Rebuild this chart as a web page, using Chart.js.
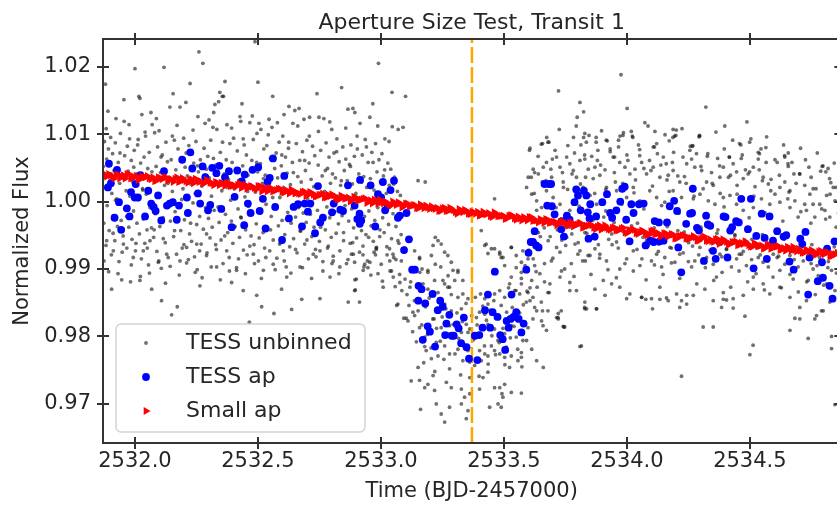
<!DOCTYPE html>
<html>
<head>
<meta charset="utf-8">
<script src="https://cdn.jsdelivr.net/npm/chart.js@4.4.0/dist/chart.umd.min.js"></script>
<style>
  html, body { margin: 0; padding: 0; background: #fff; overflow: hidden; }
  #wrap { width: 845px; height: 506px; position: relative; }
</style>
</head>
<body>
<div id="wrap"><canvas id="myChart"></canvas></div>
<script>
// labels and axis ranges
const chartTitle = 'Aperture Size Test, Transit 1';
const xLabel = 'Time (BJD-2457000)';
const yLabel = 'Normalized Flux';
const seriesNames = ['TESS unbinned', 'TESS ap', 'Small ap'];
const xRange = [2531.870, 2534.868];
const yRange = [0.9642, 1.0241];
const xTickStep = 0.5;
const yTickStep = 0.01;
const transitMid = 2533.37;

// TESS unbinned (time, flux)
const unbinned = [
[2531.871,1.0052],[2531.873,0.9968],[2531.876,1.0089],[2531.878,1.0021],[2531.880,1.0174],[2531.882,0.9935],[2531.885,1.0063],[2531.887,0.9994],[2531.890,1.0134],[2531.892,1.0078],[2531.895,0.9957],[2531.898,1.0031],[2531.901,1.0095],[2531.904,0.9921],[2531.906,1.0012],[2531.909,1.0071],[2531.912,0.9979],[2531.915,1.0046],[2531.918,0.9942],[2531.920,1.0087],[2531.923,1.0123],[2531.926,1.0004],[2531.929,0.9963],[2531.932,1.0058],[2531.935,0.9911],[2531.938,1.0027],[2531.941,1.0101],[2531.944,0.9972],[2531.946,0.9884],[2531.949,1.0039],[2531.952,0.9949],[2531.955,1.0151],[2531.956,1.0119],[2531.958,1.0068],[2531.961,0.9988],[2531.964,1.0016],[2531.967,0.9931],[2531.969,1.0082],
[2531.972,1.0045],[2531.975,0.9962],[2531.978,1.0093],[2531.980,1.0008],[2531.982,0.9881],[2531.985,1.0061],[2531.988,0.9944],[2531.991,1.0029],[2531.994,0.9986],[2531.997,1.0076],[2532.000,1.0197],[2532.002,0.9927],[2532.005,1.0041],[2532.008,0.9968],[2532.011,1.0084],[2532.014,1.0003],[2532.016,1.0156],[2532.018,0.9952],[2532.020,1.0153],[2532.023,1.0057],[2532.026,0.9915],[2532.028,1.0129],[2532.031,1.0019],[2532.034,0.9974],[2532.037,1.0066],[2532.040,0.9938],[2532.043,1.0097],[2532.046,1.0011],[2532.049,0.9958],[2532.052,1.0049],[2532.055,0.9906],[2532.058,1.0073],[2532.061,0.9991],[2532.065,1.0132],[2532.067,0.9961],[2532.068,0.9870],
[2532.070,1.0114],[2532.073,1.0034],[2532.076,0.9947],[2532.080,1.0102],[2532.083,0.9982],[2532.086,1.0052],[2532.089,0.9926],[2532.092,1.0081],[2532.095,1.0007],[2532.098,1.0105],[2532.101,0.9963],[2532.104,1.0043],[2532.107,0.9901],[2532.108,0.9853],[2532.111,1.0069],[2532.114,0.9976],[2532.118,1.0199],[2532.120,1.0024],[2532.123,0.9939],[2532.126,1.0088],[2532.129,0.9994],[2532.132,1.0059],[2532.135,0.9917],[2532.138,1.0036],[2532.142,1.0140],[2532.144,0.9971],[2532.147,1.0062],[2532.149,0.9832],[2532.152,1.0015],[2532.155,1.0160],[2532.157,0.9948],[2532.160,1.0091],[2532.163,0.9985],[2532.166,1.0047],[2532.169,0.9922],
[2532.172,0.9844],[2532.175,1.0078],[2532.178,0.9996],[2532.181,1.0032],[2532.183,1.0140],[2532.186,0.9957],[2532.189,1.0065],[2532.192,0.9931],[2532.195,1.0019],[2532.198,1.0094],[2532.201,0.9973],[2532.204,1.0051],[2532.207,1.0147],[2532.210,0.9909],[2532.213,1.0038],[2532.216,0.9986],[2532.219,1.0083],[2532.222,0.9952],[2532.224,1.0175],[2532.227,1.0026],[2532.230,0.9941],[2532.233,1.0071],[2532.236,0.9998],[2532.239,1.0057],[2532.242,0.9918],[2532.245,1.0012],[2532.248,1.0089],[2532.251,0.9966],[2532.253,0.9899],[2532.256,1.0126],[2532.258,1.0044],[2532.260,1.0222],[2532.263,0.9978],[2532.266,1.0062],[2532.269,0.9937],
[2532.272,1.0023],[2532.276,1.0205],[2532.278,0.9959],[2532.281,1.0079],[2532.285,1.0116],[2532.287,0.9991],[2532.290,1.0048],[2532.293,0.9924],[2532.296,1.0067],[2532.299,0.9975],[2532.302,1.0035],[2532.305,0.9946],[2532.308,1.0091],[2532.311,1.0008],[2532.314,0.9962],[2532.317,1.0110],[2532.320,1.0132],[2532.322,0.9987],[2532.325,1.0144],[2532.328,1.0054],[2532.331,0.9929],[2532.333,1.0107],[2532.336,1.0028],[2532.340,1.0148],[2532.342,0.9969],[2532.345,1.0162],[2532.347,1.0073],[2532.350,0.9943],[2532.353,1.0016],[2532.355,1.0156],[2532.358,0.9908],[2532.360,1.0156],[2532.363,1.0041],[2532.366,1.0178],[2532.368,0.9981],
[2532.371,1.0062],[2532.374,1.0114],[2532.377,0.9954],[2532.380,1.0033],[2532.383,0.9917],[2532.386,1.0086],[2532.389,1.0002],[2532.392,0.9971],[2532.395,1.0058],[2532.398,0.9938],[2532.401,1.0094],[2532.404,1.0019],[2532.407,0.9963],[2532.410,1.0047],[2532.413,0.9902],[2532.416,1.0075],[2532.419,0.9989],[2532.422,1.0031],[2532.425,0.9947],[2532.427,1.0126],[2532.430,1.0119],[2532.432,0.9976],[2532.435,1.0145],[2532.438,1.0053],[2532.441,0.9928],[2532.444,1.0084],[2532.447,1.0007],[2532.450,0.9958],[2532.453,1.0069],[2532.456,0.9921],[2532.459,1.0039],[2532.462,0.9993],[2532.465,0.9821],[2532.467,1.0117],[2532.469,1.0025],
[2532.472,0.9949],[2532.475,1.0061],[2532.478,0.9982],[2532.481,1.0092],[2532.484,0.9936],[2532.488,1.0237],[2532.490,1.0014],[2532.493,0.9967],[2532.496,1.0101],[2532.499,1.0044],[2532.500,1.0177],[2532.502,0.9912],[2532.504,1.0116],[2532.507,0.9985],[2532.510,1.0056],[2532.512,1.0107],[2532.515,0.9844],[2532.518,1.0027],[2532.521,0.9954],[2532.524,1.0078],[2532.527,0.9931],[2532.530,1.0039],[2532.533,0.9996],[2532.536,1.0083],[2532.539,0.9961],[2532.542,1.0018],[2532.545,1.0122],[2532.548,0.9927],[2532.551,1.0064],[2532.554,0.9978],[2532.557,1.0110],[2532.560,1.0156],[2532.562,0.9943],[2532.565,0.9834],[2532.568,1.0049],
[2532.571,0.9989],[2532.574,1.0072],[2532.577,0.9916],[2532.580,1.0035],[2532.583,0.9964],[2532.586,1.0088],[2532.589,1.0006],[2532.592,0.9939],[2532.595,1.0053],[2532.598,0.9972],[2532.601,1.0097],[2532.604,1.0021],[2532.606,1.0129],[2532.609,0.9951],[2532.612,1.0066],[2532.615,0.9903],[2532.618,1.0042],[2532.621,0.9984],[2532.624,1.0079],[2532.626,1.0141],[2532.629,0.9933],[2532.632,1.0025],[2532.635,0.9968],[2532.637,0.9840],[2532.640,1.0058],[2532.642,1.0116],[2532.645,0.9945],[2532.648,1.0012],[2532.650,1.0135],[2532.653,0.9977],[2532.656,1.0086],[2532.659,0.9924],[2532.662,1.0037],[2532.665,0.9991],[2532.667,1.0138],
[2532.670,1.0061],[2532.673,0.9956],[2532.676,1.0029],[2532.678,0.9855],[2532.681,1.0074],[2532.684,0.9983],[2532.687,1.0122],[2532.690,0.9937],[2532.693,1.0046],[2532.696,0.9969],[2532.699,1.0091],[2532.702,1.0004],[2532.705,0.9915],[2532.708,1.0057],[2532.710,1.0125],[2532.713,0.9981],[2532.716,1.0033],[2532.719,0.9948],[2532.722,1.0082],[2532.725,1.0011],[2532.728,0.9962],[2532.731,1.0068],[2532.734,0.9929],[2532.737,1.0023],[2532.740,1.0160],[2532.742,0.9987],[2532.745,1.0054],[2532.748,1.0125],[2532.750,0.9941],[2532.752,0.9856],[2532.755,1.0076],[2532.758,0.9973],[2532.761,1.0038],[2532.764,0.9911],[2532.768,1.0123],
[2532.771,1.0015],[2532.774,0.9958],[2532.777,1.0087],[2532.780,0.9992],[2532.783,1.0049],[2532.786,0.9934],[2532.789,1.0066],[2532.792,0.9976],[2532.795,1.0027],[2532.798,0.9947],[2532.800,1.0107],[2532.803,1.0041],[2532.806,0.9919],[2532.809,1.0072],[2532.812,0.9985],[2532.815,1.0035],[2532.818,0.9953],[2532.821,1.0093],[2532.824,1.0008],[2532.827,0.9967],[2532.830,1.0059],[2532.833,0.9927],[2532.836,1.0024],[2532.840,1.0169],[2532.842,0.9979],[2532.845,1.0081],[2532.848,0.9942],[2532.851,1.0046],[2532.854,0.9994],[2532.857,1.0063],[2532.860,0.9908],[2532.863,1.0031],[2532.866,1.0137],[2532.867,0.9851],[2532.869,0.9971],
[2532.872,1.0055],[2532.875,0.9938],[2532.878,1.0084],[2532.881,0.9989],[2532.884,1.0026],[2532.886,1.0138],[2532.889,0.9961],[2532.892,1.0067],[2532.894,1.0132],[2532.896,0.9869],[2532.898,1.0012],[2532.901,0.9946],[2532.904,1.0078],[2532.907,0.9983],[2532.910,1.0041],[2532.913,0.9925],[2532.915,1.0116],[2532.918,1.0003],[2532.921,0.9957],[2532.924,1.0069],[2532.927,0.9934],[2532.930,1.0037],[2532.933,0.9978],[2532.936,1.0092],[2532.939,0.9951],[2532.942,1.0021],[2532.945,0.9912],[2532.948,1.0058],[2532.951,0.9986],[2532.955,1.0125],[2532.957,1.0034],[2532.960,0.9964],[2532.963,1.0073],[2532.967,1.0145],[2532.969,0.9941],
[2532.972,1.0017],[2532.975,0.9972],[2532.978,1.0086],[2532.981,0.9929],[2532.984,1.0044],[2532.987,0.9991],[2532.990,1.0205],[2532.992,1.0062],[2532.995,0.9948],[2532.998,1.0029],[2533.001,0.9907],[2533.004,1.0071],[2533.007,0.9976],[2533.010,1.0038],[2533.013,0.9954],[2533.016,1.0093],[2533.019,0.9985],[2533.022,1.0012],[2533.025,0.9921],[2533.028,1.0057],[2533.031,0.9966],[2533.034,1.0024],[2533.037,0.9897],[2533.040,1.0048],[2533.043,0.9945],[2533.045,1.0162],[2533.046,1.0111],[2533.049,0.9982],[2533.052,0.9917],[2533.055,1.0036],[2533.058,0.9874],[2533.061,0.9963],[2533.064,0.9846],[2533.067,1.0015],[2533.070,1.0107],[2533.073,0.9938],[2533.076,0.9892],[2533.079,1.0009],[2533.082,0.9951],[2533.085,0.9868],[2533.088,0.9979],[2533.090,1.0110],[2533.093,0.9827],[2533.096,0.9931],[2533.098,0.9885],[2533.100,1.0156],
[2531.885,0.9942],[2531.912,0.9927],[2531.953,0.9937],[2531.993,0.9917],[2532.034,0.9927],[2532.061,0.9942],[2532.095,0.9910],[2532.129,0.9922],[2532.183,0.9912],[2532.210,0.9932],[2532.251,0.9937],[2532.291,0.9920],[2532.332,0.9903],[2532.373,0.9927],[2532.413,0.9898],[2532.440,0.9868],[2532.481,0.9922],[2532.522,0.9898],[2532.562,0.9907],[2532.603,0.9927],[2532.617,0.9888],[2532.671,0.9903],[2532.725,0.9922],[2532.752,0.9927],[2532.806,0.9912],[2532.833,0.9903],[2532.888,0.9922],[2532.928,0.9898],[2532.955,0.9910],[2532.982,0.9932],[2533.036,0.9912],[2533.050,0.9888],[2533.077,0.9880],[2533.118,0.9873],[2533.158,0.9895],
[2531.905,0.9870],[2532.020,0.9883],[2532.264,0.9875],[2532.393,0.9880],[2532.495,0.9861],[2532.596,0.9870],[2532.793,0.9888],[2533.009,0.9873],
[2531.874,0.9912],[2531.883,1.0108],[2531.893,0.9896],[2531.903,1.0041],[2531.911,0.9953],[2531.921,1.0002],[2531.931,0.9893],[2531.939,1.0072],[2531.948,0.9925],[2531.957,1.0033],[2531.966,0.9978],[2531.976,1.0114],[2531.985,0.9906],[2531.995,1.0051],[2532.004,0.9938],[2532.013,1.0092],[2532.022,0.9889],[2532.032,1.0017],[2532.041,1.0103],[2532.050,0.9931],[2532.059,0.9894],[2532.069,1.0044],[2532.078,0.9958],[2532.087,1.0123],[2532.097,0.9912],[2532.106,1.0066],[2532.115,0.9945],[2532.124,0.9879],[2532.134,1.0027],[2532.143,0.9904],[2532.152,1.0097],[2532.161,0.9957],[2532.171,1.0113],[2532.180,0.9891],[2532.190,1.0003],[2532.199,0.9936],[2532.208,1.0072],[2532.217,0.9914],[2532.226,0.9968],[2532.236,1.0106],[2532.245,0.9895],[2532.254,1.0053],[2532.263,0.9927],[2532.273,0.9887],[2532.282,1.0039],[2532.291,0.9952],[2532.301,1.0121],[2532.310,0.9903],[2532.319,1.0064],[2532.328,0.9936],[2532.338,0.9992],[2532.347,0.9884],[2532.356,1.0088],[2532.365,0.9949],[2532.375,1.0021],[2532.384,0.9897],[2532.393,1.0109],[2532.403,0.9962],[2532.412,1.0048],[2532.421,0.9915],[2532.430,0.9977],[2532.440,1.0093],[2532.449,0.9893],[2532.458,1.0015],[2532.467,0.9934],[2532.477,1.0127],[2532.486,0.9908],[2532.495,1.0058],[2532.505,0.9946],[2532.514,0.9886],[2532.523,1.0034],[2532.532,0.9917],[2532.542,1.0099],[2532.551,0.9958],[2532.560,1.0006],[2532.570,0.9899],[2532.579,1.0117],[2532.588,0.9937],[2532.597,1.0069],[2532.607,0.9912],[2532.616,0.9974],[2532.625,1.0088],[2532.634,0.9894],[2532.644,1.0043],[2532.653,0.9929],[2532.662,1.0112],[2532.672,0.9957],[2532.681,0.9902],[2532.690,1.0061],[2532.699,0.9943],[2532.709,1.0097],[2532.718,0.9886],[2532.727,1.0022],[2532.736,0.9918],[2532.746,1.0104],[2532.755,0.9962],[2532.764,0.9897],[2532.774,1.0046],[2532.783,0.9931],[2532.792,1.0118],[2532.801,0.9908],[2532.811,0.9985],[2532.820,1.0074],[2532.829,0.9893],[2532.839,1.0031],[2532.848,0.9954],[2532.857,1.0109],[2532.866,0.9914],[2532.876,1.0052],[2532.885,0.9939],[2532.894,0.9884],[2532.903,1.0097],[2532.913,0.9966],[2532.922,1.0029],[2532.931,0.9903],[2532.941,1.0081],[2532.950,0.9947],[2532.959,0.9891],[2532.968,1.0058],[2532.978,0.9921],[2532.987,1.0112],[2532.996,0.9958],[2533.006,0.9882],[2533.015,1.0047],[2533.024,0.9933],[2533.033,1.0089],[2533.043,0.9897],[2533.052,1.0026],[2533.061,0.9914],
[2533.151,1.0031],[2533.180,1.0029],[2533.221,0.9947],[2533.232,0.9942],[2533.245,0.9937],[2533.212,0.9935],[2533.157,0.9915],[2533.191,0.9898],[2533.272,0.9920],[2533.286,0.9910],[2533.313,0.9898],[2533.333,0.9883],[2533.252,0.9883],[2533.272,0.9873],[2533.462,1.0004],[2533.408,0.9957],[2533.428,0.9937],[2533.449,0.9930],[2533.483,0.9925],[2533.530,0.9932],[2533.489,0.9917],[2533.503,0.9905],[2533.550,0.9902],[2533.571,0.9910],[2533.598,0.9915],[2533.611,1.0036],[2533.625,1.0043],[2533.604,1.0076],[2533.652,1.0085],[2533.679,1.0088],[2533.571,0.9895],[2533.530,0.9888],[2533.571,0.9878],
[2533.069,0.9942],[2533.035,0.9930],[2533.049,0.9922],[2533.083,0.9912],[2533.137,0.9927],[2533.157,0.9917],[2533.167,0.9900],[2533.205,0.9920],[2533.221,0.9907],[2533.243,0.9903],[2533.191,0.9895],[2533.259,0.9925],[2533.273,0.9890],[2533.293,0.9898],[2533.313,0.9895],[2533.422,0.9935],[2533.435,0.9923],[2533.462,0.9930],[2533.483,0.9922],[2533.496,0.9917],[2533.530,0.9932],[2533.550,0.9920],[2533.577,0.9927],[2533.625,0.9905],[2533.665,0.9908],[2533.693,0.9912],[2533.747,0.9900],[2533.774,0.9908],[2533.801,0.9922],[2533.831,0.9912],[2533.842,0.9920],
[2532.880,0.9922],[2532.893,0.9910],[2532.927,0.9921],[2532.972,0.9925],[2532.981,0.9931],[2532.934,0.9907],[2532.947,0.9902],[2532.988,0.9893],[2532.900,0.9885],
[2532.893,0.9868],[2532.913,0.9851],[2533.069,0.9848],[2533.103,0.9827],[2533.130,0.9836],[2533.171,0.9878],[2533.191,0.9870],[2533.218,0.9883],[2533.232,0.9865],[2533.259,0.9878],[2533.279,0.9873],[2533.300,0.9883],[2533.313,0.9858],[2533.333,0.9863],[2533.354,0.9856],[2533.327,0.9841],[2533.286,0.9838],[2533.216,0.9826],[2533.259,0.9848],[2533.273,0.9821],[2533.405,0.9863],[2533.422,0.9856],[2533.435,0.9848],[2533.462,0.9863],[2533.483,0.9868],[2533.503,0.9858],[2533.523,0.9878],[2533.544,0.9868],[2533.564,0.9863],[2533.591,0.9851],[2533.598,0.9865],[2533.618,0.9858],[2533.625,0.9843],[2533.652,0.9851],[2533.679,0.9865],[2533.733,0.9838],[2533.720,0.9828],[2533.747,0.9814],[2533.679,0.9838],[2533.828,0.9843],[2533.815,0.9786],
[2533.110,0.9823],[2533.137,0.9831],[2533.157,0.9813],[2533.178,0.9799],[2533.205,0.9809],[2533.225,0.9791],[2533.245,0.9813],[2533.279,0.9816],[2533.300,0.9799],[2533.327,0.9806],[2533.347,0.9818],[2533.361,0.9811],[2533.388,0.9828],[2533.401,0.9836],[2533.422,0.9833],[2533.435,0.9818],[2533.462,0.9811],[2533.476,0.9794],[2533.503,0.9804],[2533.530,0.9816],[2533.550,0.9799],[2533.577,0.9794],[2533.598,0.9813],[2533.618,0.9826],[2533.659,0.9816],[2533.571,0.9776],[2533.510,0.9784],[2533.449,0.9786],[2533.422,0.9774],[2533.401,0.9779],
[2533.151,0.9754],[2533.184,0.9779],[2533.205,0.9767],[2533.232,0.9771],[2533.259,0.9786],[2533.279,0.9774],[2533.313,0.9781],[2533.333,0.9764],[2533.354,0.9779],[2533.381,0.9757],[2533.408,0.9764],[2533.435,0.9771],[2533.462,0.9779],[2533.483,0.9774],[2533.503,0.9769],[2533.530,0.9771],[2533.557,0.9764],[2533.573,0.9755],[2533.571,0.9769],[2533.523,0.9754],[2533.178,0.9785],
[2533.123,0.9734],[2533.157,0.9735],[2533.178,0.9724],[2533.191,0.9729],[2533.212,0.9742],[2533.218,0.9720],[2533.266,0.9732],[2533.286,0.9724],[2533.327,0.9722],[2533.340,0.9710],[2533.361,0.9739],[2533.361,0.9715],[2533.401,0.9722],[2533.415,0.9739],[2533.435,0.9747],[2533.462,0.9724],[2533.483,0.9724],[2533.492,0.9715],[2533.503,0.9729],[2533.530,0.9717],[2533.571,0.9716],[2533.161,0.9692],[2533.225,0.9700],[2533.245,0.9685],[2533.259,0.9673],[2533.279,0.9695],[2533.327,0.9700],[2533.354,0.9690],[2533.347,0.9678],[2533.442,0.9695],[2533.476,0.9700],[2533.489,0.9695],[2533.496,0.9710],
[2533.106,0.9862],[2533.114,0.9846],[2533.121,0.9881],[2533.129,0.9807],[2533.136,0.9853],[2533.144,0.9792],[2533.151,0.9838],[2533.159,0.9869],[2533.166,0.9817],[2533.174,0.9761],[2533.181,0.9844],[2533.189,0.9803],[2533.196,0.9857],[2533.204,0.9783],[2533.211,0.9826],[2533.219,0.9748],[2533.226,0.9812],[2533.234,0.9851],[2533.241,0.9793],[2533.249,0.9829],[2533.256,0.9766],[2533.264,0.9841],[2533.271,0.9804],[2533.279,0.9752],[2533.286,0.9862],[2533.294,0.9818],[2533.301,0.9774],[2533.309,0.9835],[2533.316,0.9797],[2533.324,0.9743],[2533.331,0.9822],[2533.339,0.9788],[2533.346,0.9849],[2533.354,0.9806],[2533.361,0.9762],[2533.369,0.9831],[2533.376,0.9795],[2533.384,0.9858],[2533.391,0.9817],[2533.399,0.9741],[2533.406,0.9802],[2533.414,0.9845],[2533.421,0.9786],[2533.429,0.9824],[2533.436,0.9759],[2533.444,0.9839],[2533.451,0.9801],[2533.459,0.9853],[2533.466,0.9773],[2533.474,0.9827],[2533.481,0.9791],[2533.489,0.9846],[2533.496,0.9812],[2533.504,0.9758],[2533.511,0.9836],[2533.519,0.9872],[2533.526,0.9798],[2533.534,0.9843],[2533.541,0.9815],[2533.549,0.9868],[2533.556,0.9781],[2533.564,0.9835],[2533.571,0.9886],[2533.579,0.9847],[2533.586,0.9905],[2533.594,0.9867],[2533.601,0.9928],
[2533.606,1.0079],[2533.657,1.0086],[2533.683,1.0088],[2533.722,1.0164],[2533.783,1.0095],[2533.798,1.0125],[2533.809,1.0147],[2533.813,1.0084],[2533.824,1.0133],[2533.824,1.0095],[2533.829,1.0101],[2533.835,1.0088],[2533.875,1.0095],[2533.875,1.0088],[2533.920,1.0090],[2533.966,1.0081],[2533.972,1.0097],[2533.976,1.0188],[2533.986,1.0102],[2534.001,1.0138],[2534.022,1.0097],[2534.073,1.0117],[2534.107,1.0081],[2534.114,1.0104],[2534.172,1.0090],[2534.188,1.0107],[2534.194,1.0097],[2534.199,1.0098],[2534.201,1.0106],[2534.266,1.0082],[2534.296,1.0097],[2534.321,1.0140],[2534.398,1.0112],[2534.463,1.0084],[2534.488,1.0118],[2534.504,1.0093],[2534.545,1.0078],[2534.565,1.0080],[2534.642,1.0066],[2534.656,1.0072],[2534.656,1.0052],[2534.794,1.0052],[2534.818,1.0049],
[2533.599,1.0036],[2533.619,1.0048],[2533.640,1.0041],[2533.660,1.0051],[2533.673,1.0058],[2533.694,1.0036],[2533.714,1.0066],[2533.728,1.0051],[2533.741,1.0029],[2533.755,1.0066],[2533.768,1.0056],[2533.782,1.0046],[2533.795,1.0036],[2533.809,1.0061],[2533.829,1.0063],[2533.843,1.0048],[2533.870,1.0051],[2533.890,1.0039],[2533.911,1.0047],[2533.944,1.0066],[2533.971,1.0058],[2533.992,1.0051],[2534.012,1.0041],[2534.033,1.0048],[2534.060,1.0058],[2534.080,1.0041],[2534.107,1.0051],[2534.134,1.0036],[2534.148,1.0066],[2534.168,1.0039],[2534.188,1.0046],[2534.215,1.0029],[2534.243,1.0056],[2534.263,1.0063],[2534.283,1.0071],[2534.304,1.0046],[2534.324,1.0029],[2534.351,1.0024],[2534.378,1.0036],[2534.392,1.0051],[2534.416,1.0066],[2534.432,1.0056],[2534.446,1.0044],[2534.473,1.0034],[2534.493,1.0041],[2534.514,1.0051],[2534.534,1.0063],[2534.554,1.0036],[2534.575,1.0026],[2534.602,1.0011],[2534.622,1.0021],[2534.642,1.0029],[2534.663,1.0016],[2534.683,1.0001],[2534.703,1.0041],[2534.723,1.0024],[2534.744,1.0011],[2534.764,0.9977],[2534.784,0.9996],[2534.812,1.0009],[2534.839,1.0021],
[2533.592,1.0021],[2533.613,1.0011],[2533.633,1.0001],[2533.653,0.9991],[2533.673,1.0016],[2533.700,1.0006],[2533.728,0.9996],[2533.768,0.9987],[2533.795,1.0004],[2533.822,1.0021],[2533.850,1.0009],[2533.877,0.9996],[2533.917,1.0021],[2533.958,1.0016],[2533.999,1.0006],[2534.026,1.0021],[2534.053,1.0001],[2534.093,1.0016],[2534.121,1.0006],[2534.154,0.9999],[2534.188,1.0016],[2534.222,1.0006],[2534.270,1.0004],[2534.297,1.0011],[2534.331,1.0001],[2534.358,0.9996],[2534.392,1.0006],[2534.419,1.0009],[2534.446,0.9996],[2534.473,0.9987],[2534.514,0.9991],[2534.547,1.0004],[2534.581,0.9996],[2534.622,0.9999],[2534.663,0.9991],[2534.696,0.9977],[2534.730,0.9987],[2534.757,0.9996],[2534.805,0.9987],[2534.825,0.9977],[2534.846,1.0001],
[2533.633,0.9987],[2533.660,0.9974],[2533.700,0.9982],[2533.728,0.9972],[2533.755,0.9962],[2533.640,0.9954],[2533.680,0.9942],[2533.714,0.9932],[2533.728,0.9925],[2533.755,0.9947],[2533.789,0.9937],[2533.809,0.9927],[2533.829,0.9954],[2533.850,0.9920],[2533.870,0.9930],[2533.890,0.9922],[2533.917,0.9912],[2533.938,0.9952],[2533.958,0.9940],[2533.971,0.9900],[2533.999,0.9915],[2534.026,0.9927],[2534.053,0.9905],[2534.080,0.9942],[2534.100,0.9912],[2534.121,0.9922],[2534.141,0.9903],[2534.154,0.9917],[2534.175,0.9932],[2534.195,0.9910],[2534.215,0.9922],[2534.243,0.9942],[2534.263,0.9903],[2534.276,0.9912],[2534.297,0.9932],[2534.324,0.9917],[2534.351,0.9907],[2534.364,0.9888],[2534.378,0.9922],[2534.405,0.9930],[2534.425,0.9903],[2534.446,0.9915],[2534.466,0.9922],[2534.486,0.9905],[2534.514,0.9888],[2534.534,0.9917],[2534.554,0.9910],[2534.575,0.9903],[2534.595,0.9922],[2534.622,0.9898],[2534.642,0.9907],[2534.663,0.9920],[2534.676,0.9885],[2534.696,0.9903],[2534.717,0.9912],[2534.737,0.9883],[2534.757,0.9900],[2534.778,0.9890],[2534.798,0.9912],[2534.812,0.9878],[2534.832,0.9898],[2534.846,0.9868],
[2534.825,0.9851],[2534.798,0.9838],[2534.764,0.9826],[2534.730,0.9853],[2534.703,0.9843],[2534.663,0.9858],[2534.622,0.9873],[2534.581,0.9863],[2534.554,0.9878],[2534.514,0.9870],[2534.473,0.9861],[2534.432,0.9856],[2534.392,0.9865],[2534.351,0.9853],[2534.317,0.9870],[2534.270,0.9861],[2534.243,0.9848],[2534.202,0.9863],[2534.168,0.9853],[2534.134,0.9873],[2534.100,0.9856],[2534.060,0.9858],[2534.012,0.9863],[2533.971,0.9873],[2533.938,0.9878],[2533.904,0.9883],[2533.870,0.9870],[2533.829,0.9851],[2533.795,0.9868],[2533.768,0.9880],[2533.728,0.9888],[2533.687,0.9878],[2533.646,0.9893],[2533.613,0.9883],[2533.619,0.9915],[2533.633,0.9932],[2533.606,0.9853],[2533.633,0.9838],[2533.653,0.9823],[2533.673,0.9809],[2533.592,0.9794],[2533.613,0.9781],[2533.633,0.9764],[2533.660,0.9754],
[2534.222,0.9741],[2533.809,0.9785],[2534.500,0.9773],[2534.513,0.9787],[2534.832,0.9800],[2534.832,0.9782],[2534.846,0.9699],[2533.836,0.9841],[2533.876,0.9841],[2533.744,0.9814],[2533.721,0.9834],[2533.721,0.9826],[2534.310,0.9814],[2534.351,0.9814],[2534.480,0.9830],[2534.432,0.9842],[2534.737,0.9797],
[2534.683,0.9827],[2534.703,0.9826],[2534.663,0.9809],[2534.791,0.9838],[2534.771,0.9831],[2534.392,0.9855],[2534.385,0.9843],[2534.405,0.9854],[2534.215,0.9843],[2534.222,0.9853],[2534.243,0.9861],[2534.134,0.9855],[2534.161,0.9857],[2534.104,0.9841],[2534.077,0.9855],[2534.060,0.9858],[2533.999,0.9856],[2533.911,0.9861],[2533.877,0.9841],[2533.829,0.9841],[2533.684,0.9865],[2533.768,0.9868],[2533.657,0.9838],[2533.714,0.9828],[2533.741,0.9815],[2533.635,0.9873],[2533.606,0.9872],
[2533.882,1.0076],[2533.916,1.0091],[2533.950,1.0066],[2533.984,1.0098],[2534.024,1.0095],[2534.052,1.0068],[2534.092,1.0061],[2534.112,1.0081],[2534.160,1.0056],[2534.187,1.0095],[2534.228,1.0066],[2534.268,1.0083],[2534.295,1.0098],[2534.329,1.0071],[2534.377,1.0053],[2534.417,1.0066],[2534.458,1.0086],[2534.499,1.0044],[2534.539,1.0071],[2534.566,1.0058],[2534.641,1.0068],[2534.655,1.0056],[2534.702,1.0041],[2534.749,1.0036],[2534.797,1.0053],[2534.824,1.0034],[2534.851,1.0021],
[2533.664,0.9961],[2533.688,0.9948],[2533.706,0.9966],[2533.735,0.9943],[2533.751,0.9971],[2533.776,0.9952],[2533.802,0.9939],[2533.818,0.9963],[2533.846,0.9946],[2533.861,0.9972],[2533.884,0.9936],[2533.897,0.9958],[2533.926,0.9944],[2533.948,0.9969],[2533.965,0.9931],[2533.983,0.9956],[2534.006,0.9938],[2534.019,0.9964],[2534.041,0.9929],[2534.066,0.9947],[2534.087,0.9935],[2534.111,0.9961],[2534.128,0.9926],[2534.146,0.9943],[2534.181,0.9931],[2534.207,0.9957],[2534.229,0.9924],[2534.251,0.9939],[2534.279,0.9962],[2534.292,0.9921],[2534.313,0.9947],[2534.338,0.9928],[2534.366,0.9953],[2534.386,0.9918],[2534.411,0.9936],[2534.439,0.9949],[2534.457,0.9922],[2534.478,0.9943],[2534.507,0.9914],[2534.528,0.9931],[2534.551,0.9951],[2534.572,0.9912],[2534.593,0.9938],[2534.617,0.9919],[2534.639,0.9944],[2534.668,0.9909],[2534.688,0.9927],[2534.711,0.9946],[2534.734,0.9915],[2534.752,0.9936],[2534.773,0.9905],[2534.801,0.9928],[2534.819,0.9911],[2534.843,0.9933],
[2533.671,1.0031],[2533.697,1.0063],[2533.712,0.9991],[2533.738,1.0043],[2533.759,1.0018],[2533.787,1.0072],[2533.806,0.9993],[2533.832,1.0036],[2533.857,1.0067],[2533.869,1.0012],[2533.893,1.0054],[2533.914,0.9986],[2533.932,1.0078],[2533.953,1.0029],[2533.979,0.9996],[2534.004,1.0061],[2534.029,1.0013],[2534.047,1.0084],[2534.069,0.9989],[2534.098,1.0046],[2534.124,1.0071],[2534.141,0.9994],[2534.163,1.0032],[2534.185,1.0058],[2534.212,0.9983],[2534.234,1.0037],[2534.256,1.0076],[2534.273,1.0008],[2534.301,1.0052],[2534.326,0.9979],[2534.347,1.0027],[2534.369,1.0064],[2534.395,0.9992],[2534.421,1.0039],[2534.448,1.0011],[2534.469,1.0069],[2534.497,0.9976],[2534.521,1.0022],[2534.538,1.0047],[2534.562,0.9983],[2534.586,1.0033],[2534.611,1.0058],[2534.634,0.9971],[2534.659,1.0014],[2534.679,1.0041],[2534.707,0.9985],[2534.726,1.0062],[2534.748,0.9968],[2534.769,1.0019],[2534.788,1.0045],[2534.808,0.9974],[2534.829,1.0028],[2534.851,0.9962],
[2533.623,1.0012],[2533.631,0.9896],[2533.639,1.0067],[2533.648,0.9948],[2533.656,1.0029],[2533.665,0.9881],[2533.674,1.0095],[2533.682,0.9973],[2533.691,1.0048],[2533.699,0.9916],[2533.708,1.0076],[2533.717,0.9958],[2533.725,1.0107],[2533.734,0.9897],[2533.742,1.0021],[2533.751,0.9935],[2533.760,1.0083],[2533.768,0.9962],[2533.777,1.0041],[2533.785,0.9889],[2533.794,1.0112],[2533.803,0.9971],[2533.811,1.0026],[2533.820,0.9912],[2533.828,1.0069],[2533.837,0.9953],[2533.846,1.0098],[2533.854,0.9892],[2533.863,1.0034],[2533.871,0.9945],[2533.880,1.0061],[2533.889,0.9916],[2533.897,1.0105],[2533.906,0.9977],[2533.914,1.0018],[2533.923,0.9899],[2533.932,1.0074],[2533.940,0.9936],[2533.949,1.0043],[2533.957,0.9887],[2533.966,1.0091],[2533.975,0.9959],[2533.983,1.0027],[2533.992,0.9908],[2534.000,1.0069],[2534.009,0.9944],[2534.018,1.0104],[2534.026,0.9897],[2534.035,1.0032],[2534.043,0.9968],[2534.052,1.0077],[2534.061,0.9915],[2534.069,1.0049],[2534.078,0.9884],[2534.086,1.0112],[2534.095,0.9951],[2534.104,1.0023],[2534.112,0.9906],[2534.121,1.0086],[2534.129,0.9937],[2534.138,1.0054],[2534.147,0.9892],[2534.155,1.0099],[2534.164,0.9963],[2534.172,1.0015],[2534.181,0.9909],[2534.190,1.0073],[2534.198,0.9946],[2534.207,1.0038],[2534.215,0.9886],[2534.224,1.0108],[2534.233,0.9955],[2534.241,1.0027],[2534.250,0.9911],[2534.258,1.0082],[2534.267,0.9934],[2534.276,1.0051],[2534.284,0.9878],[2534.293,1.0096],[2534.301,0.9962],[2534.310,1.0019],[2534.319,0.9902],[2534.327,1.0067],[2534.336,0.9941],[2534.344,1.0043],[2534.353,0.9883],[2534.362,1.0103],[2534.370,0.9958],[2534.379,1.0012],[2534.387,0.9895],[2534.396,1.0078],[2534.405,0.9929],[2534.413,1.0036],[2534.422,0.9873],[2534.430,1.0091],[2534.439,0.9951],[2534.448,1.0024],[2534.456,0.9897],[2534.465,1.0064],[2534.473,0.9926],[2534.482,1.0047],[2534.491,0.9881],[2534.499,1.0088],[2534.508,0.9944],[2534.516,1.0008],[2534.525,0.9893],[2534.534,1.0073],[2534.542,0.9921],[2534.551,1.0031],[2534.559,0.9869],[2534.568,1.0096],[2534.577,0.9938],[2534.585,1.0016],[2534.594,0.9888],[2534.602,1.0062],[2534.611,0.9917],[2534.620,1.0039],[2534.628,0.9872],[2534.637,1.0084],[2534.645,0.9931],[2534.654,1.0004],[2534.663,0.9892],[2534.671,1.0058],[2534.680,0.9914],[2534.688,1.0027],[2534.697,0.9866],[2534.706,1.0079],[2534.714,0.9923],[2534.723,0.9996],[2534.731,0.9881],[2534.740,1.0051],[2534.749,0.9908],[2534.757,1.0019],[2534.766,0.9862],[2534.774,1.0072],[2534.783,0.9917],[2534.792,0.9989],[2534.800,0.9876],[2534.809,1.0044],[2534.817,0.9902],[2534.826,1.0011],[2534.835,0.9859],[2534.843,1.0057],[2534.852,0.9894],[2534.860,0.9983]
];

// TESS ap (time, flux)
const tessAp = [
[2531.890,1.0021],[2531.894,1.0056],[2531.902,1.0027],[2531.917,0.9976],[2531.927,1.0047],[2531.935,0.9999],[2531.944,0.9958],[2531.967,0.9990],[2531.978,0.9978],[2531.984,1.0014],[2531.999,1.0006],[2532.003,1.0026],[2532.012,1.0006],[2532.022,1.0039],[2532.041,0.9978],[2532.054,1.0016],[2532.066,0.9997],[2532.076,0.9992],[2532.084,0.9986],[2532.094,1.0009],[2532.107,0.9972],[2532.118,1.0045],[2532.130,0.9994],[2532.141,0.9997],[2532.154,0.9999],[2532.170,0.9973],[2532.179,0.9994],[2532.192,1.0062],[2532.211,1.0006],[2532.215,0.9983],[2532.225,1.0073],[2532.233,1.0049],[2532.256,1.0012],[2532.265,0.9997],[2532.275,1.0052],[2532.286,1.0036],[2532.297,0.9987],[2532.306,0.9995],[2532.314,1.0050],[2532.331,1.0042],[2532.343,1.0053],[2532.351,0.9989],[2532.366,1.0036],[2532.382,1.0045],[2532.393,0.9962],[2532.405,1.0007],[2532.416,1.0046],[2532.434,1.0030],[2532.444,0.9965],[2532.446,1.0040],[2532.459,0.9997],[2532.470,0.9983],[2532.478,1.0047],[2532.501,1.0051],[2532.507,0.9986],[2532.520,1.0004],[2532.531,0.9960],[2532.539,1.0029],[2532.548,1.0035],[2532.561,1.0064],[2532.570,0.9992],[2532.598,0.9943],[2532.607,1.0038],[2532.626,0.9975],[2532.645,0.9992],[2532.663,0.9996],[2532.679,0.9963],[2532.690,0.9997],[2532.703,0.9985],[2532.713,0.9997],[2532.732,0.9953],[2532.744,1.0023],[2532.753,0.9969],[2532.764,0.9976],[2532.801,0.9984],[2532.808,0.9997],[2532.835,0.9988],[2532.846,0.9986],[2532.866,1.0024],[2532.893,0.9994],[2532.904,0.9974],[2532.913,0.9982],[2532.915,1.0032],[2532.920,0.9972],[2532.914,0.9967],[2532.958,1.0024],[2532.977,0.9963],[2532.988,1.0011],[2533.001,1.0006],[2533.008,1.0029],[2533.017,0.9987],[2533.028,0.9994],[2533.039,1.0017],[2533.053,1.0031],[2533.069,0.9976],[2533.076,0.9979],[2533.104,0.9983],[2533.114,0.9944],[2533.094,0.9928],
[2533.127,0.9899],[2533.138,0.9899],[2533.153,0.9875],[2533.165,0.9870],[2533.152,0.9853],[2533.180,0.9849],[2533.210,0.9863],[2533.241,0.9853],[2533.251,0.9844],[2533.231,0.9839],[2533.278,0.9832],[2533.190,0.9815],[2533.199,0.9807],[2533.170,0.9795],[2533.220,0.9785],[2533.266,0.9819],[2533.261,0.9802],[2533.288,0.9801],[2533.296,0.9801],[2533.308,0.9818],[2533.316,0.9812],[2533.337,0.9828],[2533.326,0.9790],[2533.348,0.9784],[2533.358,0.9767],[2533.392,0.9765],[2533.382,0.9801],[2533.400,0.9802],[2533.413,0.9813],[2533.444,0.9813],[2533.423,0.9839],[2533.435,0.9862],[2533.454,0.9836],[2533.474,0.9829],[2533.485,0.9802],[2533.495,0.9796],[2533.505,0.9780],[2533.511,0.9823],[2533.519,0.9813],[2533.527,0.9826],[2533.531,0.9862],[2533.539,0.9829],[2533.550,0.9836],[2533.560,0.9826],[2533.580,0.9819],[2533.571,0.9806],[2533.463,0.9896],[2533.591,0.9899],[2533.600,0.9924],[2533.609,0.9940],[2533.618,0.9940],[2533.631,0.9935],[2533.641,0.9932],[2533.625,0.9956],
[2533.665,1.0026],[2533.683,1.0026],[2533.692,1.0026],[2533.676,0.9994],[2533.695,0.9993],[2533.706,0.9981],[2533.733,0.9959],[2533.744,0.9948],[2533.736,0.9971],[2533.756,0.9979],[2533.767,0.9973],[2533.794,1.0018],[2533.801,1.0009],[2533.825,1.0016],[2533.835,1.0009],[2533.787,0.9999],[2533.812,0.9987],[2533.841,0.9984],[2533.851,0.9996],[2533.844,0.9945],[2533.848,0.9975],[2533.869,0.9948],[2533.875,0.9978],[2533.900,0.9999],[2533.919,1.0011],[2533.932,0.9983],[2533.940,0.9976],[2533.957,0.9987],[2533.973,1.0000],[2533.981,1.0019],[2533.991,1.0022],[2533.997,0.9973],[2534.011,0.9941],[2534.018,0.9996],[2534.027,0.9983],[2534.049,0.9996],[2534.068,0.9997],[2534.076,0.9935],[2534.095,0.9942],[2534.109,0.9940],[2534.113,0.9971],[2534.130,0.9969],[2534.133,0.9941],[2534.149,0.9942],[2534.163,0.9969],[2534.174,0.9993],[2534.192,1.0001],[2534.204,0.9986],[2534.209,0.9932],[2534.221,0.9895],[2534.241,0.9967],[2534.257,0.9982],[2534.265,0.9983],[2534.268,1.0019],[2534.285,0.9961],[2534.293,0.9957],[2534.313,0.9912],[2534.322,0.9979],[2534.329,0.9966],[2534.339,0.9964],[2534.350,0.9927],[2534.361,0.9915],[2534.377,0.9940],[2534.393,0.9978],[2534.401,0.9977],[2534.409,0.9917],[2534.420,0.9957],[2534.428,0.9962],[2534.444,0.9971],[2534.455,0.9969],[2534.465,1.0004],[2534.504,1.0004],[2534.492,0.9959],[2534.515,0.9901],[2534.526,0.9949],[2534.548,0.9982],[2534.580,0.9978],[2534.560,0.9946],[2534.594,0.9942],[2534.569,0.9915],[2534.611,0.9956],[2534.637,0.9948],[2534.648,0.9950],[2534.661,0.9911],[2534.678,0.9899],[2534.705,0.9945],[2534.713,0.9937],[2534.726,0.9955],[2534.737,0.9862],[2534.743,0.9917],[2534.776,0.9882],[2534.797,0.9887],[2534.824,0.9875],[2534.793,0.9910],[2534.814,0.9930],[2534.844,0.9941],[2534.836,0.9856]
];

// Small ap (time, flux)
const smallAp = [
[2531.870,1.0042],[2531.885,1.0037],[2531.900,1.0039],[2531.915,1.0034],[2531.930,1.0040],[2531.945,1.0037],[2531.960,1.0034],[2531.975,1.0041],[2531.990,1.0035],[2532.005,1.0038],[2532.020,1.0033],[2532.035,1.0036],[2532.050,1.0038],[2532.065,1.0033],[2532.080,1.0030],[2532.095,1.0036],[2532.110,1.0033],[2532.125,1.0036],[2532.140,1.0032],[2532.155,1.0029],[2532.170,1.0036],[2532.185,1.0030],[2532.200,1.0032],[2532.215,1.0028],[2532.230,1.0033],[2532.245,1.0034],[2532.260,1.0029],[2532.275,1.0027],[2532.290,1.0032],[2532.305,1.0028],[2532.320,1.0024],[2532.335,1.0028],[2532.350,1.0028],[2532.365,1.0023],[2532.380,1.0028],[2532.395,1.0023],[2532.410,1.0022],[2532.425,1.0027],[2532.440,1.0022],[2532.455,1.0019],[2532.470,1.0023],[2532.485,1.0020],[2532.500,1.0023],[2532.515,1.0015],[2532.530,1.0020],[2532.545,1.0020],[2532.560,1.0015],[2532.575,1.0017],[2532.590,1.0019],[2532.605,1.0013],[2532.620,1.0016],[2532.635,1.0018],[2532.650,1.0012],[2532.665,1.0012],[2532.680,1.0014],[2532.695,1.0008],[2532.710,1.0014],[2532.725,1.0010],[2532.740,1.0008],[2532.755,1.0010],[2532.770,1.0006],[2532.785,1.0010],[2532.800,1.0011],[2532.815,1.0006],[2532.830,1.0003],[2532.845,1.0007],[2532.860,1.0005],[2532.875,1.0000],[2532.890,1.0007],[2532.905,1.0001],[2532.920,1.0003],[2532.935,1.0005],[2532.950,1.0000],[2532.965,0.9997],[2532.980,1.0002],[2532.995,1.0003],
[2533.010,0.9997],[2533.025,0.9998],[2533.040,0.9994],[2533.055,0.9998],[2533.070,0.9999],[2533.085,0.9991],[2533.100,0.9997],[2533.115,0.9993],[2533.130,0.9995],[2533.145,0.9990],[2533.160,0.9996],[2533.175,0.9990],[2533.190,0.9991],[2533.205,0.9993],[2533.220,0.9989],[2533.235,0.9986],[2533.250,0.9990],[2533.265,0.9986],[2533.280,0.9991],[2533.295,0.9987],[2533.310,0.9982],[2533.325,0.9986],[2533.340,0.9988],[2533.355,0.9982],[2533.370,0.9985],[2533.385,0.9982],[2533.400,0.9979],[2533.415,0.9985],[2533.430,0.9981],[2533.445,0.9978],[2533.460,0.9984],[2533.475,0.9978],[2533.490,0.9979],[2533.505,0.9974],[2533.520,0.9979],[2533.535,0.9979],[2533.550,0.9973],[2533.565,0.9975],[2533.580,0.9977],[2533.595,0.9972],[2533.610,0.9977],[2533.625,0.9972],[2533.640,0.9969],[2533.655,0.9972],[2533.670,0.9974],[2533.685,0.9968],[2533.700,0.9970],[2533.715,0.9965],[2533.730,0.9970],[2533.745,0.9969],[2533.760,0.9964],[2533.775,0.9969],[2533.790,0.9965],[2533.805,0.9967],[2533.820,0.9961],[2533.835,0.9964],[2533.850,0.9966],[2533.865,0.9961],[2533.880,0.9963],[2533.895,0.9958],[2533.910,0.9965],[2533.925,0.9959],[2533.940,0.9961],[2533.955,0.9957],[2533.970,0.9958],[2533.985,0.9961],
[2534.000,0.9953],[2534.015,0.9957],[2534.030,0.9958],[2534.045,0.9952],[2534.060,0.9957],[2534.075,0.9953],[2534.090,0.9951],[2534.105,0.9957],[2534.120,0.9952],[2534.135,0.9948],[2534.150,0.9953],[2534.165,0.9949],[2534.180,0.9952],[2534.195,0.9945],[2534.210,0.9949],[2534.225,0.9950],[2534.240,0.9945],[2534.255,0.9946],[2534.270,0.9949],[2534.285,0.9942],[2534.300,0.9945],[2534.315,0.9948],[2534.330,0.9941],[2534.345,0.9941],[2534.360,0.9944],[2534.375,0.9937],[2534.390,0.9944],[2534.405,0.9940],[2534.420,0.9937],[2534.435,0.9940],[2534.450,0.9935],[2534.465,0.9939],[2534.480,0.9941],[2534.495,0.9935],[2534.510,0.9933],[2534.525,0.9937],[2534.540,0.9934],[2534.555,0.9930],[2534.570,0.9936],[2534.585,0.9930],[2534.600,0.9933],[2534.615,0.9934],[2534.630,0.9929],[2534.645,0.9927],[2534.660,0.9931],[2534.675,0.9933],[2534.690,0.9926],[2534.705,0.9927],[2534.720,0.9924],[2534.735,0.9927],[2534.750,0.9928],[2534.765,0.9921],[2534.780,0.9926],[2534.795,0.9923],[2534.810,0.9925],[2534.825,0.9919],[2534.840,0.9922],[2534.855,0.9924],[2534.870,0.9918],
[2531.8775,1.0037],[2531.8925,1.0041],[2531.9075,1.0037],[2531.9225,1.0039],[2531.9375,1.0034],[2531.9525,1.0039],[2531.9675,1.0041],[2531.9825,1.0034],[2531.9975,1.0036],[2532.0125,1.0032],[2532.0275,1.0038],[2532.0425,1.0036],[2532.0575,1.0034],[2532.0725,1.0036],[2532.0875,1.0031],[2532.1025,1.0035],[2532.1175,1.0036],[2532.1325,1.0031],[2532.1475,1.0033],[2532.1625,1.0034],[2532.1775,1.0029],[2532.1925,1.0035],[2532.2075,1.0030],[2532.2225,1.0032],[2532.2375,1.0027],[2532.2525,1.0032],[2532.2675,1.0030],[2532.2825,1.0027],[2532.2975,1.0031],[2532.3125,1.0027],[2532.3275,1.0029],[2532.3425,1.0024],[2532.3575,1.0027],[2532.3725,1.0028],[2532.3875,1.0023],[2532.4025,1.0024],[2532.4175,1.0025],[2532.4325,1.0020],[2532.4475,1.0025],[2532.4625,1.0021],[2532.4775,1.0022],[2532.4925,1.0018],[2532.5075,1.0023],[2532.5225,1.0019],[2532.5375,1.0015],[2532.5525,1.0020],[2532.5675,1.0016],[2532.5825,1.0019],[2532.5975,1.0014],[2532.6125,1.0016],[2532.6275,1.0012],[2532.6425,1.0016],[2532.6575,1.0013],[2532.6725,1.0011],[2532.6875,1.0015],[2532.7025,1.0010],[2532.7175,1.0013],[2532.7325,1.0007],[2532.7475,1.0010],[2532.7625,1.0012],[2532.7775,1.0006],[2532.7925,1.0008],[2532.8075,1.0009],[2532.8225,1.0003],[2532.8375,1.0009],[2532.8525,1.0004],[2532.8675,1.0006],[2532.8825,1.0002],[2532.8975,1.0006],[2532.9125,1.0002],[2532.9275,1.0004],[2532.9425,0.9998],[2532.9575,1.0002],[2532.9725,1.0003],[2532.9875,0.9997],
[2533.0025,0.9999],[2533.0175,1.0000],[2533.0325,0.9995],[2533.0475,1.0000],[2533.0625,0.9995],[2533.0775,0.9997],[2533.0925,0.9993],[2533.1075,0.9997],[2533.1225,0.9993],[2533.1375,0.9995],[2533.1525,0.9990],[2533.1675,0.9993],[2533.1825,0.9994],[2533.1975,0.9989],[2533.2125,0.9990],[2533.2275,0.9991],[2533.2425,0.9986],[2533.2575,0.9991],[2533.2725,0.9986],[2533.2875,0.9988],[2533.3025,0.9984],[2533.3175,0.9989],[2533.3325,0.9984],[2533.3475,0.9986],[2533.3625,0.9981],[2533.3775,0.9984],[2533.3925,0.9985],[2533.4075,0.9980],[2533.4225,0.9981],[2533.4375,0.9983],[2533.4525,0.9977],[2533.4675,0.9982],[2533.4825,0.9978],[2533.4975,0.9979],[2533.5125,0.9975],[2533.5275,0.9980],[2533.5425,0.9975],[2533.5575,0.9978],[2533.5725,0.9972],[2533.5875,0.9975],[2533.6025,0.9977],[2533.6175,0.9971],[2533.6325,0.9972],[2533.6475,0.9974],[2533.6625,0.9968],[2533.6775,0.9973],[2533.6925,0.9969],[2533.7075,0.9970],[2533.7225,0.9967],[2533.7375,0.9971],[2533.7525,0.9966],[2533.7675,0.9969],[2533.7825,0.9963],[2533.7975,0.9966],[2533.8125,0.9968],[2533.8275,0.9962],[2533.8425,0.9964],[2533.8575,0.9965],[2533.8725,0.9959],[2533.8875,0.9965],[2533.9025,0.9960],[2533.9175,0.9961],[2533.9325,0.9958],[2533.9475,0.9962],[2533.9625,0.9957],[2533.9775,0.9960],[2533.9925,0.9954],
[2534.0075,0.9958],[2534.0225,0.9959],[2534.0375,0.9953],[2534.0525,0.9955],[2534.0675,0.9956],[2534.0825,0.9950],[2534.0975,0.9956],[2534.1125,0.9951],[2534.1275,0.9953],[2534.1425,0.9949],[2534.1575,0.9953],[2534.1725,0.9949],[2534.1875,0.9951],[2534.2025,0.9945],[2534.2175,0.9949],[2534.2325,0.9950],[2534.2475,0.9945],[2534.2625,0.9946],[2534.2775,0.9947],[2534.2925,0.9942],[2534.3075,0.9947],[2534.3225,0.9942],[2534.3375,0.9944],[2534.3525,0.9940],[2534.3675,0.9945],[2534.3825,0.9940],[2534.3975,0.9942],[2534.4125,0.9937],[2534.4275,0.9940],[2534.4425,0.9941],[2534.4575,0.9936],[2534.4725,0.9937],[2534.4875,0.9938],[2534.5025,0.9933],[2534.5175,0.9938],[2534.5325,0.9934],[2534.5475,0.9935],[2534.5625,0.9931],[2534.5775,0.9936],[2534.5925,0.9931],[2534.6075,0.9933],[2534.6225,0.9928],[2534.6375,0.9931],[2534.6525,0.9933],[2534.6675,0.9927],[2534.6825,0.9928],[2534.6975,0.9930],[2534.7125,0.9924],[2534.7275,0.9929],[2534.7425,0.9925],[2534.7575,0.9926],[2534.7725,0.9922],[2534.7875,0.9927],[2534.8025,0.9922],[2534.8175,0.9925],[2534.8325,0.9919],[2534.8475,0.9922],[2534.8625,0.9924]
];

const fontFamily = "'DejaVu Sans', sans-serif";
const ink = '#262626';

// frame, inout ticks, title and legend drawn on top of the plot
const framePlugin = {
    id: 'frame',
    afterDatasetsDraw(chart) {
        const { ctx, chartArea: a } = chart;
        const bx = a.left + 13, by = a.bottom - 119, bw = 249, bh = 108, r = 5;
        ctx.save();
        ctx.beginPath();
        ctx.moveTo(bx + r, by);
        ctx.arcTo(bx + bw, by, bx + bw, by + bh, r);
        ctx.arcTo(bx + bw, by + bh, bx, by + bh, r);
        ctx.arcTo(bx, by + bh, bx, by, r);
        ctx.arcTo(bx, by, bx + bw, by, r);
        ctx.closePath();
        ctx.fillStyle = 'rgba(255,255,255,0.8)';
        ctx.fill();
        ctx.strokeStyle = '#d4d4d4';
        ctx.lineWidth = 1.5;
        ctx.stroke();

        let row = 0;
        chart.data.datasets.forEach(ds => {
            if (!ds.label) return;
            const cy = by + 19 + row * 34;
            ctx.fillStyle = ds.pointBackgroundColor;
            Chart.helpers.drawPoint(ctx, {
                pointStyle: ds.pointStyle,
                rotation: ds.pointRotation || 0,
                radius: ds.pointRadius,
                borderWidth: 0
            }, bx + 30, cy);
            ctx.fillStyle = ink;
            ctx.font = '22px ' + fontFamily;
            ctx.textAlign = 'left';
            ctx.textBaseline = 'middle';
            ctx.fillText(ds.label, bx + 70, cy);
            row++;
        });
        ctx.restore();
    },
    afterDraw(chart) {
        const { ctx, chartArea: a, scales: { x, y } } = chart;
        ctx.save();
        ctx.strokeStyle = '#333';
        ctx.lineWidth = 2;
        ctx.strokeRect(a.left, a.top, a.right - a.left, a.bottom - a.top);
        ctx.beginPath();
        x.ticks.forEach(t => {
            const px = Math.round(x.getPixelForValue(t.value));
            ctx.moveTo(px, a.bottom - 6); ctx.lineTo(px, a.bottom + 6);
            ctx.moveTo(px, a.top - 6); ctx.lineTo(px, a.top + 6);
        });
        y.ticks.forEach(t => {
            const py = Math.round(y.getPixelForValue(t.value));
            ctx.moveTo(a.left - 6, py); ctx.lineTo(a.left + 6, py);
            ctx.moveTo(a.right - 6, py); ctx.lineTo(a.right + 6, py);
        });
        ctx.stroke();

        ctx.fillStyle = ink;
        ctx.font = '22px ' + fontFamily;
        ctx.textAlign = 'center';
        ctx.textBaseline = 'alphabetic';
        ctx.fillText(chartTitle, (a.left + a.right) / 2, 29);
        ctx.restore();
    }
};

const ctx = document.getElementById('myChart').getContext('2d');
const chart = new Chart(ctx, {
    type: 'scatter',
    data: {
        datasets: [
            {
                label: seriesNames[0],
                data: unbinned,
                pointStyle: 'circle',
                pointRadius: 1.9,
                pointBackgroundColor: 'rgba(25,25,25,0.62)',
                pointBorderWidth: 0,
                order: 4
            },
            {
                label: '',
                type: 'line',
                data: [[transitMid, yRange[0]], [transitMid, yRange[1]]],
                borderColor: '#ffa500',
                borderWidth: 2.5,
                borderDash: [16, 4],
                pointRadius: 0,
                order: 3
            },
            {
                label: seriesNames[1],
                data: tessAp,
                pointStyle: 'circle',
                pointRadius: 3.9,
                pointBackgroundColor: '#0000ff',
                pointBorderWidth: 0,
                order: 2
            },
            {
                label: seriesNames[2],
                data: smallAp,
                pointStyle: 'triangle',
                pointRotation: 90,
                pointRadius: 4.6,
                pointBackgroundColor: '#ff0000',
                pointBorderWidth: 0,
                order: 1
            }
        ]
    },
    options: {
        responsive: true,
        maintainAspectRatio: false,
        animation: false,
        events: [],
        layout: { padding: { top: 39, right: 4, left: 0, bottom: 0 } },
        plugins: {
            legend: { display: false },
            title: { display: false },
            tooltip: { enabled: false }
        },
        scales: {
            x: {
                type: 'linear',
                min: xRange[0],
                max: xRange[1],
                grid: { display: false, drawTicks: false },
                border: { display: false },
                ticks: {
                    stepSize: xTickStep,
                    includeBounds: false,
                    autoSkip: false,
                    maxRotation: 0,
                    padding: 6,
                    color: ink,
                    font: { family: fontFamily, size: 21 },
                    callback: v => v.toFixed(1)
                },
                title: {
                    display: true,
                    text: xLabel,
                    color: ink,
                    font: { family: fontFamily, size: 21 },
                    padding: { top: 0, bottom: 2 }
                },
                afterFit: s => { s.height = 63; }
            },
            y: {
                type: 'linear',
                min: yRange[0],
                max: yRange[1],
                grid: { display: false, drawTicks: false },
                border: { display: false },
                ticks: {
                    stepSize: yTickStep,
                    includeBounds: false,
                    autoSkip: false,
                    padding: 12,
                    color: ink,
                    font: { family: fontFamily, size: 21 },
                    callback: v => v.toFixed(2)
                },
                title: {
                    display: true,
                    text: yLabel,
                    color: ink,
                    font: { family: fontFamily, size: 21 },
                    padding: { top: 10, bottom: 0 }
                },
                afterFit: s => { s.width = 103; }
            }
        }
    },
    plugins: [framePlugin]
});
</script>
</body>
</html>
